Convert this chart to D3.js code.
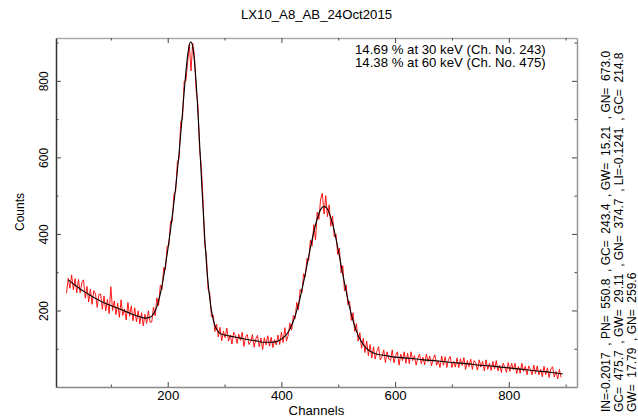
<!DOCTYPE html>
<html>
<head>
<meta charset="utf-8">
<script type="text/javascript" src="https://cdn.jsdelivr.net/npm/d3@7/dist/d3.min.js"></script>
<style>
  body { margin: 0; background: #fff; }
  text { font-family: "Liberation Sans", Arial, sans-serif; fill: #000; white-space: pre; }
</style>
</head>
<body>
<div id="viz"></div>
<script type="text/javascript">
var title = "LX10_A8_AB_24Oct2015";
var infoLines = ["14.69 % at 30 keV (Ch. No. 243)", "14.38 % at 60 keV (Ch. No. 475)"];
var fitParams = [
  "IN=-0.2017  , PN=  550.8  , GC=  243.4  , GW=  15.21  , GN=  673.0",
  "GC=  475.7  , GW=  29.11  , GN=  374.7  , LI=-0.1241  , GC=  214.8",
  "GW=  17.79  , GN=  259.6"
];

var xMajor = [200, 400, 600, 800];
var xMinor = [100, 300, 500, 700, 900];
var yMajor = [200, 400, 600, 800];
var yMinor = [100, 300, 500, 700, 900];

// measured spectrum, one value every 3rd channel starting at channel 22
var firstChannel = 22, channelStep = 3;
var counts = [
  245, 284, 258, 293, 254, 283, 246, 281, 246, 273,
  280, 232, 263, 222, 256, 216, 252, 243, 208, 242,
  243, 203, 238, 199, 229, 192, 262, 200, 225, 189,
  219, 182, 228, 187, 204, 175, 221, 185, 212, 173,
  207, 170, 199, 165, 194, 160, 190, 166, 199, 169,
  170, 209, 186, 233, 213, 266, 255, 312, 307, 368,
  369, 433, 432, 504, 512, 588, 597, 694, 700, 799,
  800, 848, 896, 826, 899, 866, 776, 740, 622, 578,
  496, 375, 345, 255, 245, 184, 188, 145, 164, 131,
  156, 121, 146, 129, 154, 120, 136, 112, 143, 135,
  114, 138, 122, 143, 106, 131, 137, 111, 119, 137,
  104, 126, 135, 105, 128, 98, 129, 110, 134, 107,
  130, 103, 124, 110, 136, 111, 143, 116, 155, 120,
  136, 167, 149, 187, 178, 221, 202, 255, 246, 296,
  288, 336, 330, 384, 368, 424, 384, 457, 438, 491,
  506, 452, 500, 445, 476, 420, 447, 392, 400, 346,
  363, 298, 317, 251, 267, 215, 224, 174, 194, 145,
  166, 120, 142, 101, 127, 90, 120, 82, 111, 76,
  105, 73, 93, 105, 71, 79, 97, 64, 92, 73,
  69, 97, 63, 82, 92, 57, 86, 69, 92, 62,
  88, 61, 92, 69, 82, 57, 76, 86, 61, 78,
  58, 86, 66, 81, 55, 74, 84, 57, 69, 51,
  81, 57, 79, 51, 72, 80, 51, 67, 52, 76,
  51, 74, 56, 77, 46, 69, 53, 73, 46, 69,
  62, 44, 71, 52, 67, 42, 71, 46, 62, 43,
  67, 47, 69, 42, 57, 38, 62, 53, 38, 64,
  41, 62, 45, 62, 35, 54, 36, 62, 41, 54,
  32, 55, 46, 32, 57, 35, 55, 32, 46, 27,
  54, 32, 50, 25, 47, 53, 26, 41, 21, 46, 25
];

// fitted curve
var fitChannels = [25, 30, 40, 50, 60, 70, 80, 90, 100, 110,
  120, 130, 140, 150, 160, 170, 175, 180, 185, 190,
  195, 200, 205, 210, 215, 220, 225, 230, 235, 240,
  243, 245, 250, 255, 260, 265, 270, 275, 280, 285,
  290, 295, 300, 310, 320, 330, 340, 350, 360, 370,
  380, 390, 400, 410, 420, 430, 440, 450, 460, 470,
  475, 480, 490, 500, 510, 520, 530, 540, 550, 560,
  570, 580, 600, 625, 650, 675, 700, 725, 750, 775,
  800, 825, 850, 875, 895];
var fitCounts = [280, 274, 263, 252, 243, 234, 226, 219, 213, 207,
  201, 195, 189, 184, 180, 183, 191, 206, 231, 265,
  308, 357, 411, 470, 535, 611, 698, 790, 866, 902,
  896, 879, 796, 669, 525, 393, 289, 219, 177, 154,
  143, 138, 136, 133, 130, 127, 124, 122, 119, 117,
  117, 118, 125, 139, 168, 215, 281, 356, 424, 466,
  472, 467, 427, 358, 279, 208, 154, 120, 100, 90,
  85, 83, 78, 75, 71, 68, 64, 61, 57, 54,
  50, 46, 42, 38, 34];

var W = 638, H = 419;
var pL = 56, pR = 577, pT = 38, pB = 387;
var sx = 1.1; // text is drawn slightly wide

var svg = d3.select("#viz").append("svg")
  .attr("width", W).attr("height", H);

var x = d3.scaleLinear().domain([3.5, 920]).range([pL, pR]);
var y = d3.scaleLinear().domain([0, 912]).range([pB, pT]);

svg.append("clipPath").attr("id", "clip")
  .append("rect").attr("x", pL).attr("y", pT)
  .attr("width", pR - pL).attr("height", pB - pT);

var spectrum = counts.map(function(c, i) { return [firstChannel + i * channelStep, c]; });
var fit = fitChannels.map(function(c, i) { return [c, fitCounts[i]]; });

var plot = svg.append("g").attr("clip-path", "url(#clip)");

plot.append("path")
  .datum(spectrum)
  .attr("fill", "none")
  .attr("stroke", "#ff0000")
  .attr("stroke-width", 0.9)
  .attr("d", d3.line().x(function(d) { return x(d[0]); }).y(function(d) { return y(d[1]); }));

plot.append("path")
  .datum(fit)
  .attr("fill", "none")
  .attr("stroke", "#000")
  .attr("stroke-width", 1.1)
  .attr("d", d3.line().curve(d3.curveMonotoneX)
    .x(function(d) { return x(d[0]); }).y(function(d) { return y(d[1]); }));

function dropDomain(g) { g.select(".domain").remove(); }

// frame: top and right sides, with ticks pointing in
svg.append("g").attr("transform", "translate(0," + pT + ")").attr("color", "#444")
  .call(d3.axisTop(x).tickValues(xMajor).tickSize(-5).tickSizeOuter(0).tickFormat(""))
  .call(function(g) { g.select(".domain").attr("stroke", "#aaa").attr("stroke-width", 1.5); });
svg.append("g").attr("transform", "translate(0," + pT + ")").attr("color", "#444")
  .call(d3.axisTop(x).tickValues(xMinor).tickSize(-2.5).tickFormat("")).call(dropDomain);
svg.append("g").attr("transform", "translate(" + pR + ",0)").attr("color", "#444")
  .call(d3.axisRight(y).tickValues(yMajor).tickSize(-5).tickSizeOuter(0).tickFormat(""))
  .call(function(g) { g.select(".domain").attr("stroke", "#999").attr("stroke-width", 1.5); });
svg.append("g").attr("transform", "translate(" + pR + ",0)").attr("color", "#444")
  .call(d3.axisRight(y).tickValues(yMinor).tickSize(-2.5).tickFormat("")).call(dropDomain);

// bottom axis
svg.append("g").attr("transform", "translate(0," + pB + ")").attr("color", "#444")
  .call(d3.axisBottom(x).tickValues(xMinor).tickSize(-2.5).tickFormat("")).call(dropDomain);
svg.append("g").attr("transform", "translate(0," + pB + ")").attr("color", "#444")
  .call(d3.axisBottom(x).tickValues(xMajor).tickSize(-5).tickSizeOuter(0).tickPadding(4.5))
  .call(function(g) {
    g.select(".domain").attr("stroke", "#888").attr("stroke-width", 1.5);
    g.selectAll("text").attr("font-size", 12).attr("fill", "#000")
      .attr("font-family", "Liberation Sans, Arial, sans-serif")
      .attr("transform", "scale(" + sx + ",1)");
  });

// left axis
svg.append("g").attr("transform", "translate(" + pL + ",0)").attr("color", "#444")
  .call(d3.axisLeft(y).tickValues(yMinor).tickSize(-2.5).tickFormat("")).call(dropDomain);
svg.append("g").attr("transform", "translate(" + pL + ",0)").attr("color", "#444")
  .call(d3.axisLeft(y).tickValues(yMajor).tickSize(-5).tickSizeOuter(0))
  .call(function(g) {
    g.select(".domain").attr("stroke", "#333").attr("stroke-width", 1.5);
    g.selectAll("text").attr("font-size", 12).attr("fill", "#000")
      .attr("font-family", "Liberation Sans, Arial, sans-serif")
      .attr("x", 0).attr("y", -7.3).attr("dy", null)
      .attr("text-anchor", "middle")
      .attr("transform", "scale(" + sx + ",1) rotate(-90)");
  });

function label(tx, ty, rot, anchor, size, str) {
  svg.append("text")
    .attr("transform", "translate(" + tx + "," + ty + ") scale(" + sx + ",1)" + (rot ? " rotate(-90)" : ""))
    .attr("text-anchor", anchor)
    .attr("font-size", size)
    .text(str);
}

label((pL + pR) / 2, 19, false, "middle", 12, title);
label((pL + pR) / 2, 414.5, false, "middle", 12, "Channels");
label(24, 212, true, "middle", 12, "Counts");

infoLines.forEach(function(s, i) {
  label(355, 54 + i * 13, false, "start", 12, s);
});

fitParams.forEach(function(s, i) {
  label(610 + i * 13, 412, true, "start", 12, s);
});
</script>
</body>
</html>
